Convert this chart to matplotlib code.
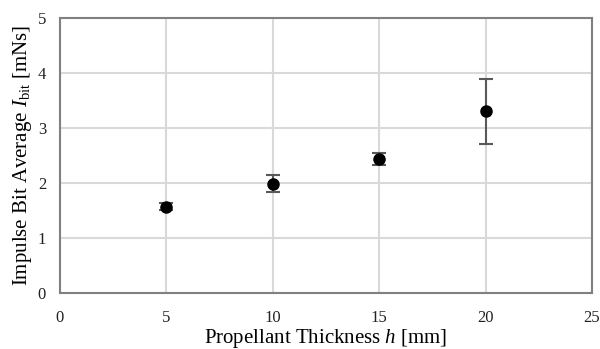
import matplotlib
matplotlib.use("Agg")
import matplotlib.pyplot as plt

thickness = [5, 10, 15, 20]
impulse = [1.57, 1.99, 2.44, 3.30]
err = [0.07, 0.15, 0.11, 0.59]
xticks = [0, 5, 10, 15, 20, 25]
yticks = [0, 1, 2, 3, 4, 5]

plt.rcParams['font.family'] = ['Liberation Serif', 'DejaVu Serif']
plt.rcParams['mathtext.fontset'] = 'custom'
plt.rcParams['mathtext.rm'] = 'Liberation Serif'
plt.rcParams['mathtext.it'] = 'Liberation Serif:italic'

fig = plt.figure(figsize=(6, 3.49), dpi=100)
ax = fig.add_axes([0.1, 0.1605, 0.8867, 0.788])
ax.set_xlim(0, 25)
ax.set_ylim(0, 5)
ax.set_xticks(xticks)
ax.set_yticks(yticks)
ax.grid(True, color='#d9d9d9', linewidth=1.5, zorder=0)
ax.set_axisbelow(True)
for s in ax.spines.values():
    s.set_color('#808080')
    s.set_linewidth(1.5)
ax.tick_params(length=0, labelsize=12, colors='#222222')
ax.tick_params(axis='x', pad=12)
ax.tick_params(axis='y', pad=10)
ax.errorbar(thickness, impulse, yerr=err, fmt='o', color='black', ms=8,
            ecolor='#595959', elinewidth=1.5, capsize=5, capthick=1.5, zorder=3)
ax.set_xlabel('Propellant Thickness $h$ [mm]', fontsize=15, labelpad=1)
ax.set_ylabel(r'Impulse Bit Average $I_{\mathrm{bit}}$ [mNs]', fontsize=15, labelpad=3)
fig.savefig('out.png', dpi=100)
